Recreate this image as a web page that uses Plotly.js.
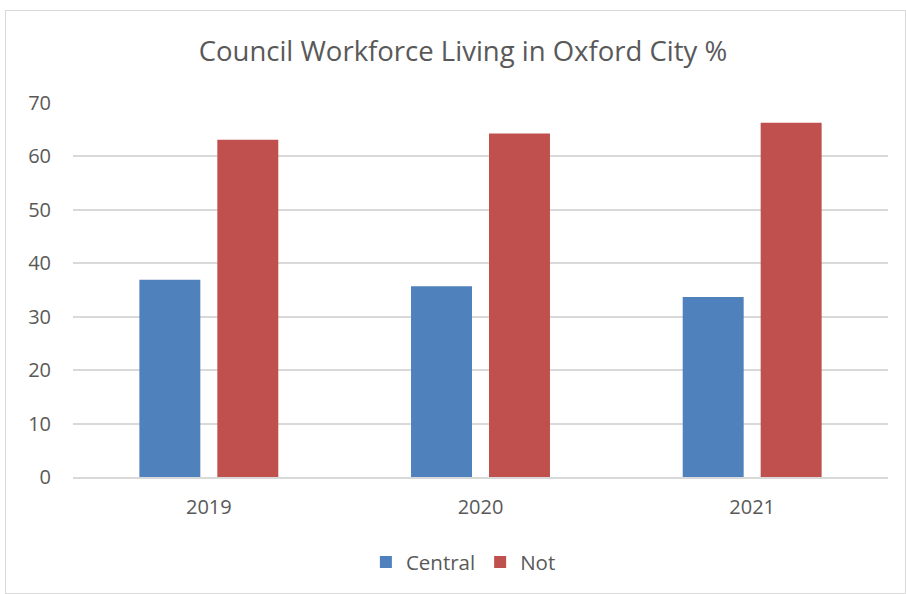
<!DOCTYPE html>
<html>
<head>
<meta charset="utf-8">
<script src="https://cdn.plot.ly/plotly-3.0.1.min.js"></script>
<style>
  body { margin: 0; background: #ffffff; }
  #frame { position: absolute; left: 5px; top: 10px; width: 901px; height: 584px; border: 1px solid #d9d9d9; box-sizing: border-box; }
  #chart { position: absolute; left: 0; top: 0; width: 906px; height: 594px; }
</style>
</head>
<body>
<div id="frame"></div>
<div id="chart"></div>
<script>
const categories = ["2019", "2020", "2021"];
const centralValues = [36.9, 35.7, 33.7];
const notValues = [63.1, 64.3, 66.3];
const seriesNames = ["Central", "Not"];
const yTicks = [0, 10, 20, 30, 40, 50, 60, 70];

const textColor = "#595959";
const fontFamily = "'Open Sans', 'Liberation Sans', sans-serif";

const data = [
  { type: "bar", name: seriesNames[0], x: categories, y: centralValues,
    marker: { color: "#4F81BD" }, hoverinfo: "skip" },
  { type: "bar", name: seriesNames[1], x: categories, y: notValues,
    marker: { color: "#C0504D" }, hoverinfo: "skip" }
];

const layout = {
  width: 906, height: 594,
  paper_bgcolor: "rgba(0,0,0,0)",
  plot_bgcolor: "rgba(0,0,0,0)",
  margin: { l: 73, r: 18, t: 103, b: 117 },
  title: { text: "Council Workforce Living in Oxford City %",
           font: { family: fontFamily, size: 27.5, color: textColor },
           x: 0.511, xanchor: "center", y: 0.913, yanchor: "middle", yref: "container" },
  barmode: "group",
  bargap: 0.426,
  bargroupgap: 0.218,
  showlegend: true,
  legend: { orientation: "h", x: 0.479, xanchor: "center", y: -0.228, yanchor: "middle",
            font: { family: fontFamily, size: 20.5, color: textColor }, itemwidth: 30 },
  xaxis: { type: "category", tickfont: { family: fontFamily, size: 20, color: textColor },
           showgrid: false, showline: true, linecolor: "#d9d9d9", linewidth: 2,
           ticks: "", ticklabelstandoff: 11, fixedrange: true },
  yaxis: { range: [0, 70], tickvals: yTicks, ticktext: yTicks.map(String),
           tickfont: { family: fontFamily, size: 20, color: textColor },
           showgrid: true, gridcolor: "#d9d9d9", gridwidth: 2,
           zeroline: false, showline: false, ticks: "", ticklabelstandoff: 21, fixedrange: true }
};

Plotly.newPlot("chart", data, layout, { displayModeBar: false, staticPlot: true });
</script>
</body>
</html>
